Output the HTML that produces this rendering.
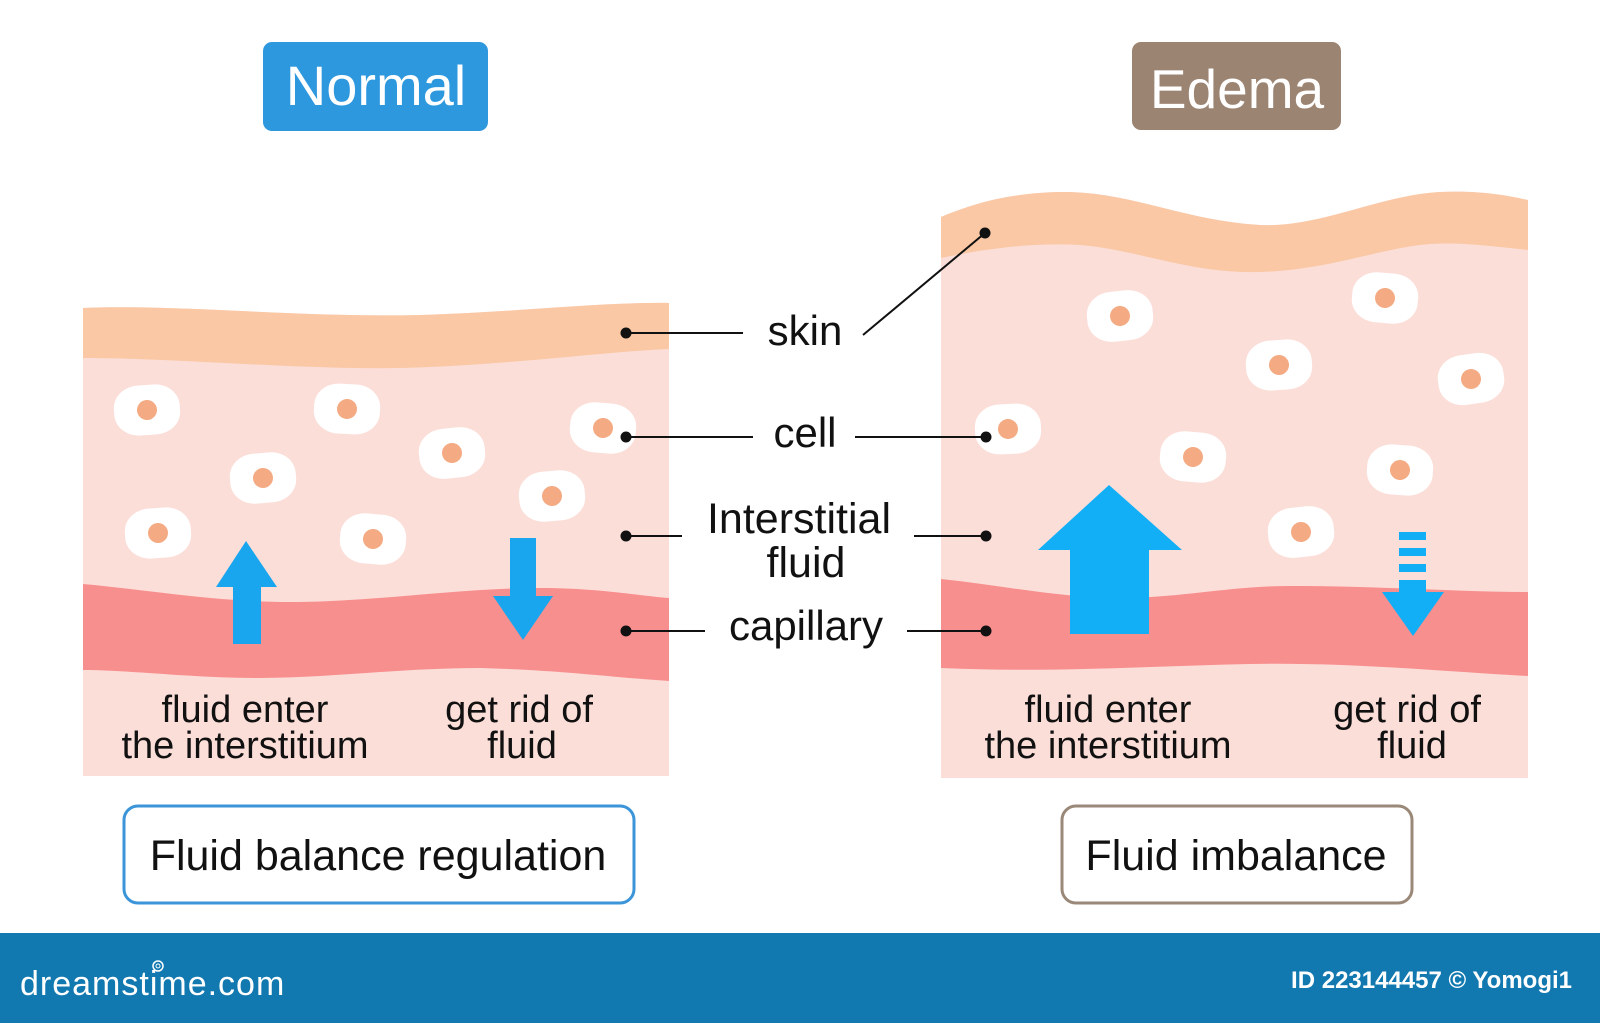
<!DOCTYPE html>
<html>
<head>
<meta charset="utf-8">
<style>
  html,body{margin:0;padding:0;background:#ffffff;}
  svg{display:block;}
  text{font-family:"Liberation Sans", sans-serif;}
</style>
</head>
<body>
<svg width="1600" height="1023" viewBox="0 0 1600 1023" xmlns="http://www.w3.org/2000/svg">
  <defs>
    <g id="cell">
      <rect x="-33" y="-25" width="66" height="50" rx="25" ry="22" fill="#ffffff"/>
      <circle cx="0" cy="0" r="10" fill="#f4aa82"/>
    </g>
  </defs>

  <rect x="0" y="0" width="1600" height="1023" fill="#ffffff"/>

  <!-- Header labels -->
  <rect x="263" y="42" width="225" height="89" rx="9" fill="#2e98df"/>
  <text x="376" y="105" font-size="56" fill="#ffffff" text-anchor="middle">Normal</text>

  <rect x="1132" y="42" width="209" height="88" rx="9" fill="#9c8472"/>
  <text x="1237" y="108" font-size="55" fill="#ffffff" text-anchor="middle">Edema</text>

  <!-- ===== LEFT PANEL ===== -->
  <path d="M83,308 C180,304 300,318 420,315 C520,312 600,302 669,303 L669,776 L83,776 Z" fill="#fcded8"/>
  <path d="M83,308 C180,304 300,318 420,315 C520,312 600,302 669,303 L669,349 C600,352 500,366 400,368 C300,370 180,358 83,358 Z" fill="#fac8a5"/>
  <path d="M83,584 C150,590 220,603 300,602 C380,601 460,588 540,588 C600,588 640,596 669,598 L669,681 C620,678 560,670 480,668 C400,668 330,678 260,678 C190,678 130,670 83,670 Z" fill="#f88f8f"/>

  <use href="#cell" transform="translate(147,410) rotate(-4)"/>
  <use href="#cell" transform="translate(347,409) rotate(3)"/>
  <use href="#cell" transform="translate(452,453) rotate(-6)"/>
  <use href="#cell" transform="translate(603,428) rotate(5)"/>
  <use href="#cell" transform="translate(263,478) rotate(-5)"/>
  <use href="#cell" transform="translate(552,496) rotate(-5)"/>
  <use href="#cell" transform="translate(158,533) rotate(-4)"/>
  <use href="#cell" transform="translate(373,539) rotate(5)"/>

  <!-- left arrows -->
  <path d="M246,541 L277,587 L261,587 L261,644 L233,644 L233,587 L216,587 Z" fill="#1aa6ee"/>
  <path d="M510,538 L536,538 L536,596 L553,596 L523,640 L493,596 L510,596 Z" fill="#1aa6ee"/>

  <text x="245" y="722" font-size="38" fill="#111" text-anchor="middle">fluid enter</text>
  <text x="245" y="758" font-size="38" fill="#111" text-anchor="middle">the interstitium</text>
  <text x="519" y="722" font-size="38" fill="#111" text-anchor="middle">get rid of</text>
  <text x="522" y="758" font-size="38" fill="#111" text-anchor="middle">fluid</text>

  <!-- ===== RIGHT PANEL ===== -->
  <path d="M941,217 C975,203 1010,193 1060,192 C1130,191 1180,220 1260,225 C1320,228 1380,195 1440,192 C1480,190 1510,196 1528,200 L1528,778 L941,778 Z" fill="#fcded8"/>
  <path d="M941,217 C975,203 1010,193 1060,192 C1130,191 1180,220 1260,225 C1320,228 1380,195 1440,192 C1480,190 1510,196 1528,200 L1528,250 C1490,246 1460,242 1430,244 C1380,248 1330,270 1260,272 C1190,274 1140,250 1080,245 C1030,242 980,250 941,258 Z" fill="#fac8a5"/>
  <path d="M941,579 C1000,585 1060,598 1120,598 C1180,598 1230,586 1290,586 C1380,586 1460,592 1528,592 L1528,676 C1450,672 1350,662 1250,664 C1150,666 1050,673 941,668 Z" fill="#f88f8f"/>

  <use href="#cell" transform="translate(1120,316) rotate(-6)"/>
  <use href="#cell" transform="translate(1385,298) rotate(5)"/>
  <use href="#cell" transform="translate(1279,365) rotate(-4)"/>
  <use href="#cell" transform="translate(1471,379) rotate(-8)"/>
  <use href="#cell" transform="translate(1008,429) rotate(-3)"/>
  <use href="#cell" transform="translate(1193,457) rotate(5)"/>
  <use href="#cell" transform="translate(1400,470) rotate(4)"/>
  <use href="#cell" transform="translate(1301,532) rotate(-6)"/>

  <!-- right arrows -->
  <path d="M1109,485 L1182,550 L1149,550 L1149,634 L1070,634 L1070,550 L1038,550 Z" fill="#12aff7"/>
  <rect x="1399" y="532" width="27" height="8" fill="#12aff7"/>
  <rect x="1399" y="548" width="27" height="8" fill="#12aff7"/>
  <rect x="1399" y="564" width="27" height="8" fill="#12aff7"/>
  <path d="M1399,580 L1426,580 L1426,592 L1444,592 L1413,636 L1382,592 L1399,592 Z" fill="#12aff7"/>

  <text x="1108" y="722" font-size="38" fill="#111" text-anchor="middle">fluid enter</text>
  <text x="1108" y="758" font-size="38" fill="#111" text-anchor="middle">the interstitium</text>
  <text x="1407" y="722" font-size="38" fill="#111" text-anchor="middle">get rid of</text>
  <text x="1412" y="758" font-size="38" fill="#111" text-anchor="middle">fluid</text>

  <!-- ===== Center labels & leader lines ===== -->
  <g stroke="#111" stroke-width="2" fill="none">
    <line x1="626" y1="333" x2="743" y2="333"/>
    <line x1="863" y1="335" x2="985" y2="233"/>
    <line x1="626" y1="437" x2="753" y2="437"/>
    <line x1="855" y1="437" x2="986" y2="437"/>
    <line x1="626" y1="536" x2="682" y2="536"/>
    <line x1="914" y1="536" x2="986" y2="536"/>
    <line x1="626" y1="631" x2="705" y2="631"/>
    <line x1="907" y1="631" x2="986" y2="631"/>
  </g>
  <g fill="#111">
    <circle cx="626" cy="333" r="5.5"/>
    <circle cx="985" cy="233" r="5.5"/>
    <circle cx="626" cy="437" r="5.5"/>
    <circle cx="986" cy="437" r="5.5"/>
    <circle cx="626" cy="536" r="5.5"/>
    <circle cx="986" cy="536" r="5.5"/>
    <circle cx="626" cy="631" r="5.5"/>
    <circle cx="986" cy="631" r="5.5"/>
  </g>
  <text x="805" y="345" font-size="42" fill="#111" text-anchor="middle">skin</text>
  <text x="805" y="447" font-size="42" fill="#111" text-anchor="middle">cell</text>
  <text x="799" y="533" font-size="43" fill="#111" text-anchor="middle">Interstitial</text>
  <text x="806" y="577" font-size="43" fill="#111" text-anchor="middle">fluid</text>
  <text x="806" y="640" font-size="42" fill="#111" text-anchor="middle">capillary</text>

  <!-- ===== Bottom caption boxes ===== -->
  <rect x="124" y="806" width="510" height="97" rx="14" fill="#ffffff" stroke="#3b95d8" stroke-width="3"/>
  <text x="378" y="870" font-size="43" fill="#111" text-anchor="middle">Fluid balance regulation</text>

  <rect x="1062" y="806" width="350" height="97" rx="14" fill="#ffffff" stroke="#9a8878" stroke-width="3"/>
  <text x="1236" y="870" font-size="43" fill="#111" text-anchor="middle">Fluid imbalance</text>

  <!-- ===== Footer ===== -->
  <rect x="0" y="933" width="1600" height="90" fill="#1278b0"/>
  <text x="20" y="995" font-size="34" fill="#ffffff" letter-spacing="1">dreamstime.com</text>
  <circle cx="158" cy="966" r="5" fill="none" stroke="#ffffff" stroke-width="1.5"/>
  <circle cx="158" cy="966" r="2" fill="none" stroke="#ffffff" stroke-width="1"/>
  <text x="1572" y="988" font-size="24" font-weight="bold" fill="#ffffff" text-anchor="end">ID 223144457 © Yomogi1</text>
</svg>
</body>
</html>
